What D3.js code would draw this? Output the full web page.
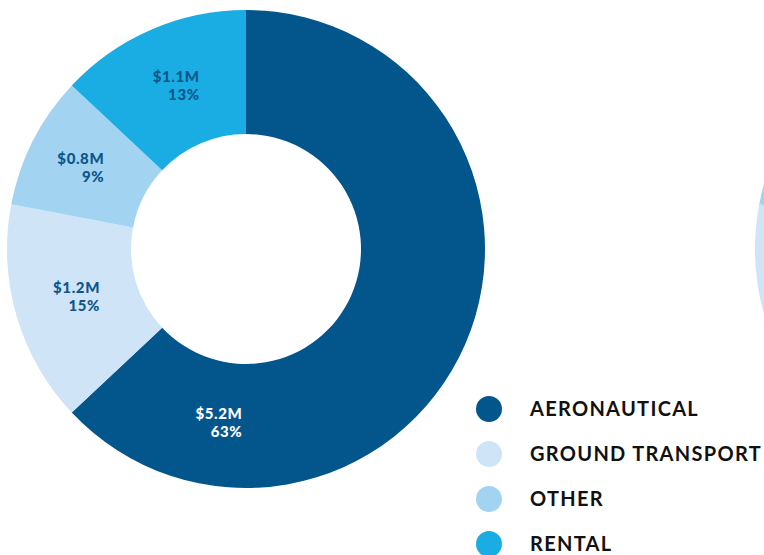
<!DOCTYPE html>
<html>
<head>
<meta charset="utf-8">
<script src="https://cdn.jsdelivr.net/npm/d3@7"></script>
<style>
  html, body { margin: 0; padding: 0; background: #fff; }
  svg { display: block; }
</style>
</head>
<body>
<svg id="chart" width="764" height="555"></svg>
<script>
// revenue split by category
var categories = ["AERONAUTICAL", "GROUND TRANSPORT", "OTHER", "RENTAL"];
var amounts = ["$5.2M", "$1.2M", "$0.8M", "$1.1M"];
var shares = [63, 15, 9, 13];
// second chart, only its left edge shows on the page
var shares2 = [60, 18, 9, 13];
var colors = ["#03568b", "#cfe4f7", "#a2d3f1", "#1aade4"];

var svg = d3.select("#chart");
var outerR = 239, innerR = 115;

var pie = d3.pie().sort(null).value(function(d){ return d; });
var arc = d3.arc().innerRadius(innerR).outerRadius(outerR);
var labelArc = d3.arc().innerRadius(177).outerRadius(177);

/*
 * draws one donut centred on cx, cy
 */
function donut(values, cx, cy){
	var g = svg.append("g").attr("transform", "translate(" + cx + "," + cy + ")");
	g.selectAll("path").data(pie(values)).enter().append("path")
		.attr("d", arc)
		.attr("fill", function(d, i){ return colors[i]; });
	return g;
}

var main = donut(shares, 246, 249);
donut(shares2, 994, 249);

var slices = pie(shares);
var labels = main.selectAll("g.lbl").data(slices).enter().append("g").attr("class", "lbl")
	.attr("transform", function(d, i){
		var p;
		if(i == 0){
			// big slice gets its label down near the bottom
			var a = d.endAngle - 0.66;
			p = labelArc.centroid({startAngle: a, endAngle: a});
		} else {
			p = labelArc.centroid(d);
		}
		// the small one sits a bit further out to the left
		var dx = i == 2 ? 16 : 24;
		return "translate(" + (p[0] + dx) + "," + (p[1] - 2) + ")";
	})
	.attr("font-family", "Lato, 'Open Sans', sans-serif")
	.attr("font-weight", "900")
	.attr("font-size", "15px")
	.attr("letter-spacing", "0.6px")
	.attr("text-anchor", "end")
	.attr("fill", function(d, i){ return i == 0 ? "#ffffff" : "#0d568a"; });

labels.append("text").attr("y", -3).text(function(d, i){ return amounts[i]; });
labels.append("text").attr("y", 15).text(function(d, i){ return shares[i] + "%"; });

// legend
var legend = svg.append("g").attr("transform", "translate(489,409)");
var item = legend.selectAll("g").data(categories).enter().append("g")
	.attr("transform", function(d, i){ return "translate(0," + (i * 45) + ")"; });
item.append("circle").attr("r", 13).attr("fill", function(d, i){ return colors[i]; });
item.append("text")
	.attr("x", 41).attr("y", 7)
	.attr("font-family", "Lato, sans-serif")
	.attr("font-weight", "bold")
	.attr("font-size", "20px")
	.attr("letter-spacing", "1.3px")
	.attr("fill", "#111")
	.text(function(d){ return d; });
</script>
</body>
</html>
